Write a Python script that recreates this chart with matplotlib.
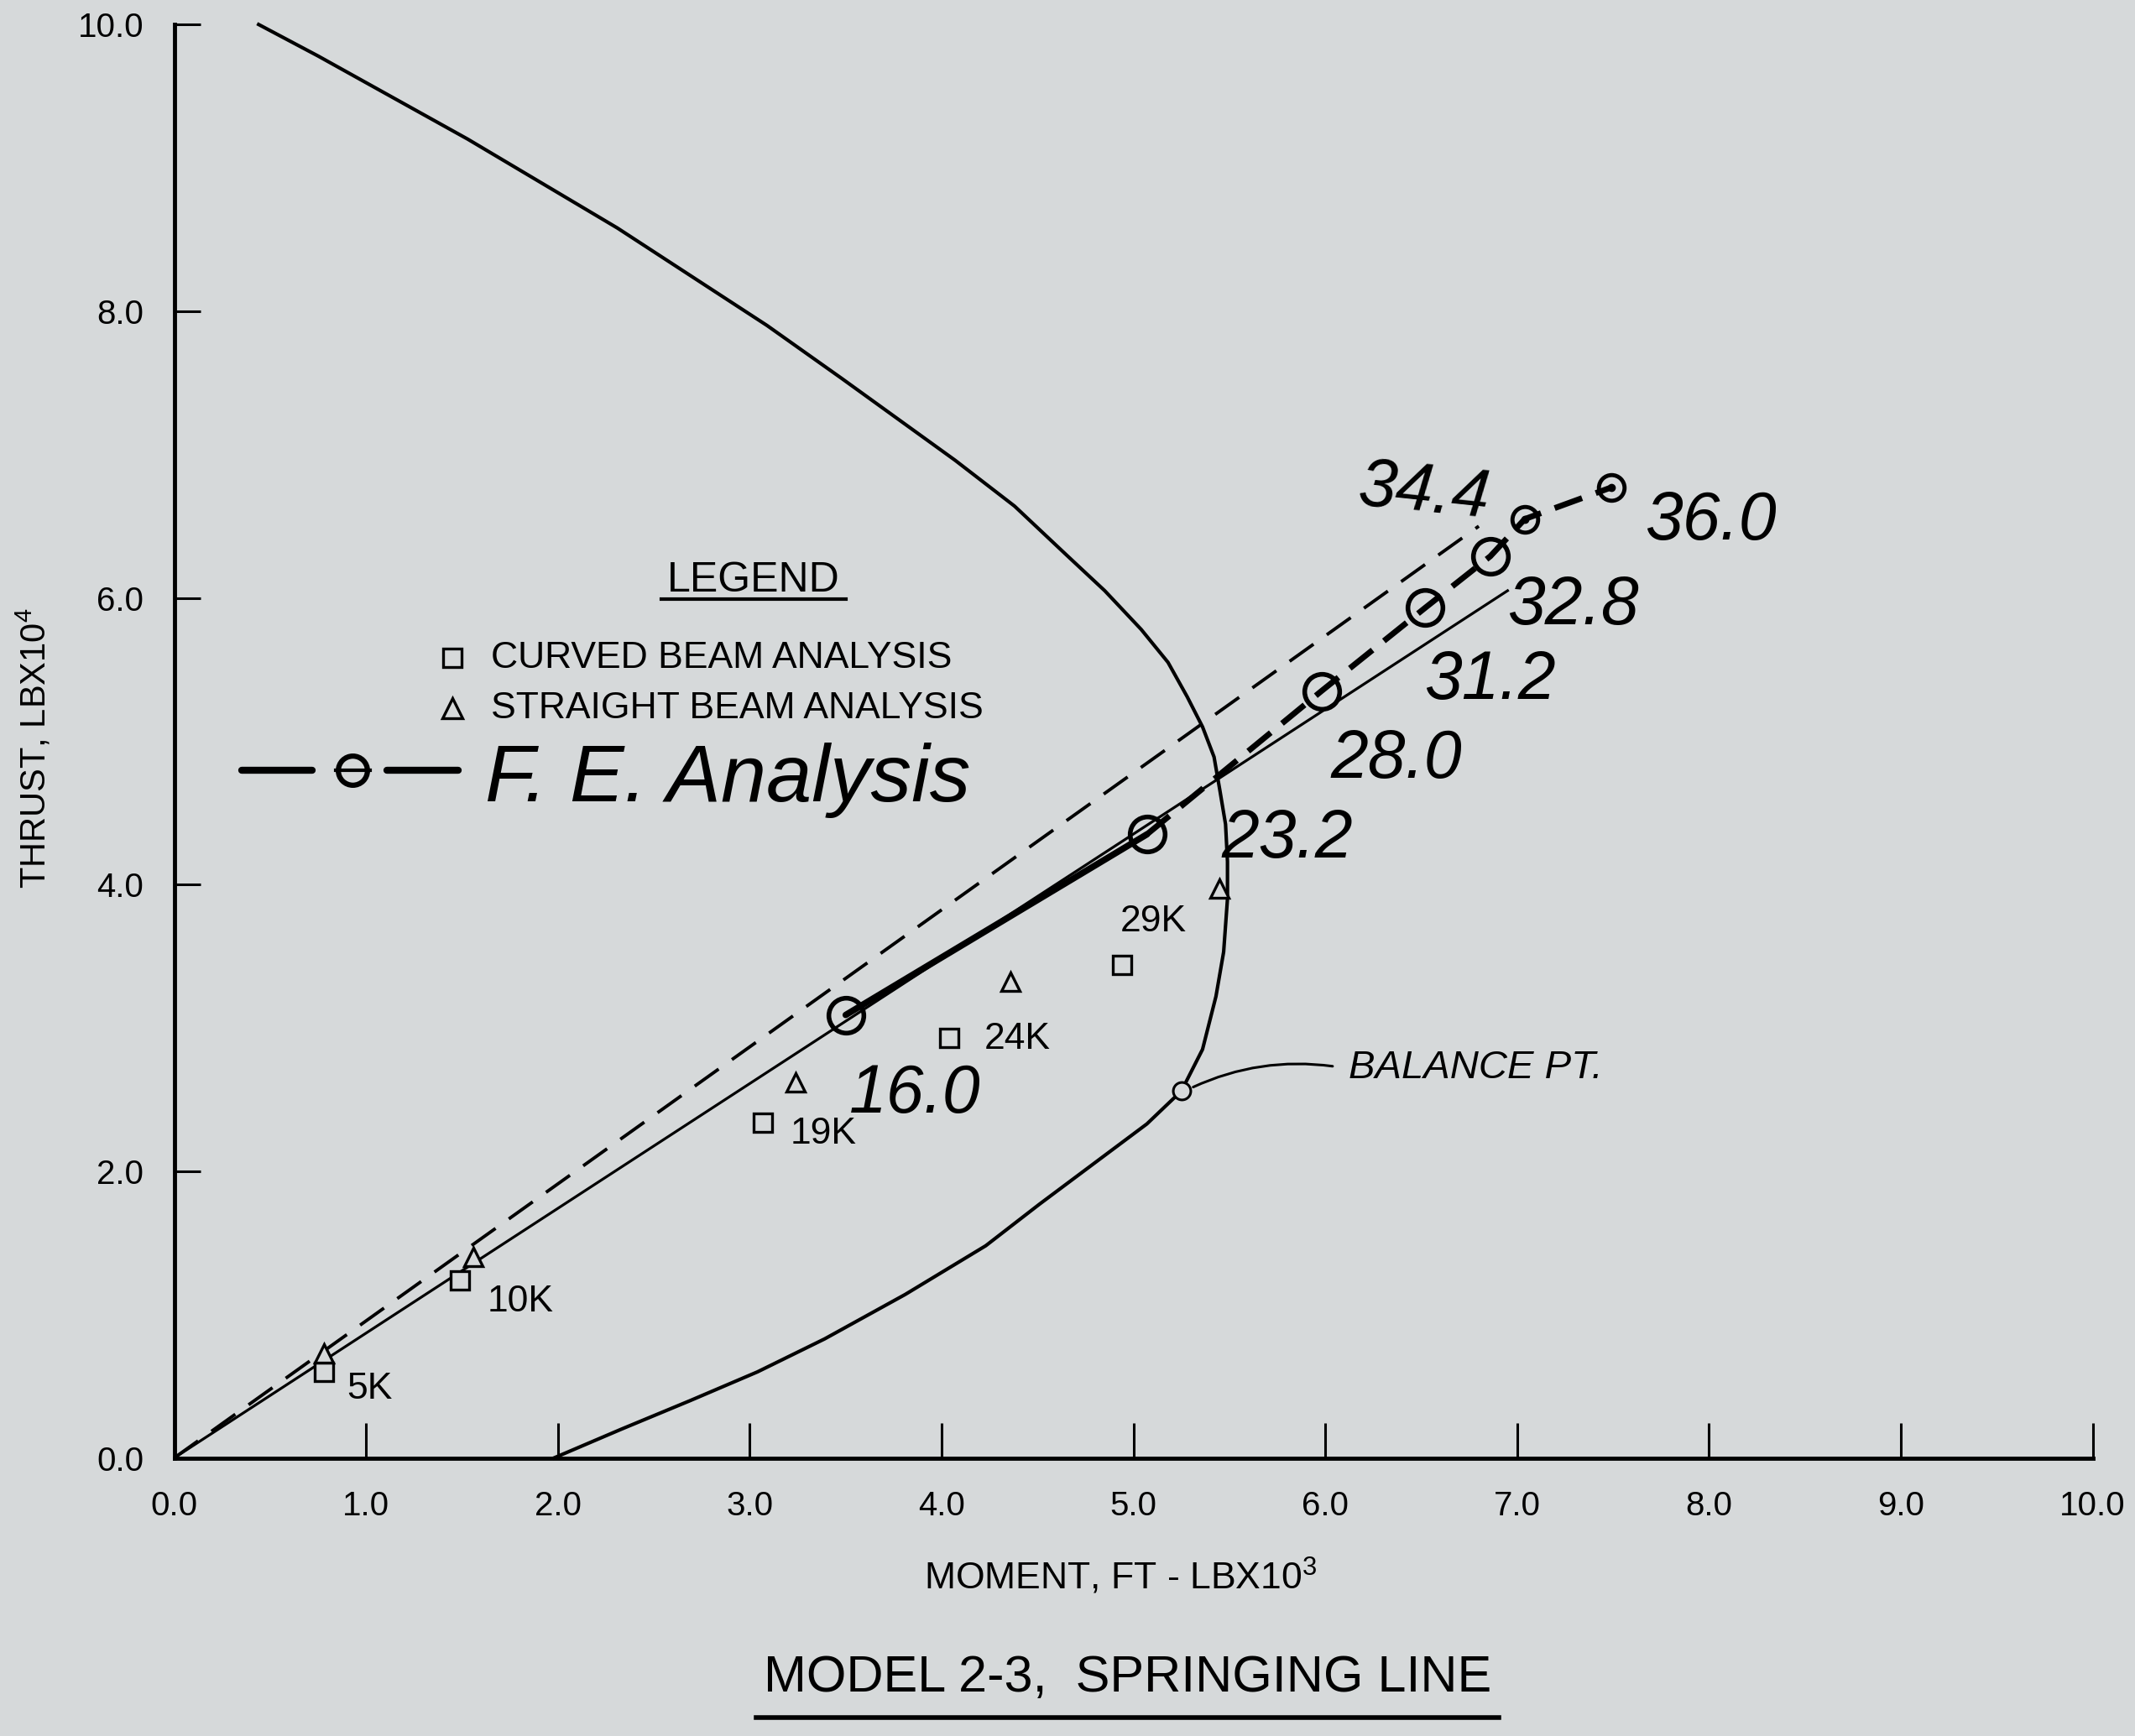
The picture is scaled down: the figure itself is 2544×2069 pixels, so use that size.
import numpy as np
import matplotlib
matplotlib.use("Agg")
import matplotlib.pyplot as plt

plt.rcParams['font.family'] = ['Liberation Sans', 'DejaVu Sans']
plt.rcParams['mathtext.default'] = 'regular'

# interaction diagram (moment x10^3 ft-lb, thrust x10^4 lb)
curve_m = [0.44, 0.75, 1.14, 1.53, 1.92, 2.31, 2.70, 3.09, 3.48, 4.07, 4.38, 4.65, 4.85, 5.04, 5.18,
           5.28, 5.36, 5.42, 5.45, 5.48, 5.49, 5.49, 5.47, 5.43, 5.36, 5.25,
           5.07, 4.79, 4.51, 4.23, 3.81, 3.39, 3.04, 2.69, 2.33, 1.98]
curve_t = [10.0, 9.78, 9.49, 9.20, 8.89, 8.58, 8.24, 7.90, 7.53, 6.96, 6.64, 6.30, 6.05, 5.78, 5.55,
           5.31, 5.10, 4.89, 4.66, 4.42, 4.16, 3.90, 3.53, 3.22, 2.85, 2.56,
           2.33, 2.05, 1.77, 1.48, 1.14, 0.83, 0.60, 0.40, 0.20, 0.0]

# balance point
bal_m = 5.25
bal_t = 2.56

# curved beam analysis (squares) and straight beam analysis (triangles)
loads = ['5K', '10K', '19K', '24K', '29K']
sq_m = [0.78, 1.49, 3.07, 4.04, 4.94]
sq_t = [0.60, 1.24, 2.34, 2.93, 3.44]
tri_m = [0.78, 1.56, 3.24, 4.36, 5.45]
tri_t = [0.73, 1.40, 2.62, 3.32, 3.97]

# load lines
curved_line_m = [0.0, 6.95]
curved_line_t = [0.0, 6.05]
straight_line_m = [0.0, 6.80]
straight_line_t = [0.0, 6.50]

# F.E. analysis (hand drawn)
fe_m = [3.50, 5.07, 5.98, 6.52, 6.86, 7.04, 7.49]
fe_t = [3.09, 4.35, 5.35, 5.93, 6.29, 6.55, 6.77]
fe_lbl = ['16.0', '23.2', '28.0', '31.2', '32.8', '34.4', '36.0']

xticks = np.arange(0, 11, 1)
yticks = np.arange(0, 11, 2)

bg = '#d6d9da'

fig = plt.figure(figsize=(25.44, 20.69), dpi=100, facecolor=bg)
ax = fig.add_axes([0.0816, 0.1602, 0.8986, 0.8257])
ax.patch.set_alpha(0)
ax.set_xlim(0, 10)
ax.set_ylim(0, 10)

for s in ['top', 'right']:
    ax.spines[s].set_visible(False)
for s in ['left', 'bottom']:
    ax.spines[s].set_linewidth(3.5)

ax.set_xticks(xticks)
ax.set_xticklabels([f'{v:.1f}' for v in xticks])
ax.set_yticks(yticks)
ax.set_yticklabels([f'{v:.1f}' for v in yticks])
ax.tick_params(axis='x', direction='in', length=30, width=2.2, pad=28, labelsize=29)
ax.tick_params(axis='y', direction='in', length=22, width=2.2, pad=26, labelsize=29)

# curves
ax.plot(curve_m, curve_t, color='black', lw=3, clip_on=False, solid_joinstyle='round')
ax.plot(curved_line_m, curved_line_t, color='black', lw=2.3)
ax.plot(straight_line_m, straight_line_t, color='black', lw=2.8, dashes=(9, 5))

# F.E. line
ax.plot(fe_m[:2], fe_t[:2], color='black', lw=5.5, solid_capstyle='round')
ax.plot(fe_m[1:], fe_t[1:], color='black', lw=5, dashes=(5, 2.5))
ax.plot(fe_m[:5], fe_t[:5], 'o', ms=30, mfc='none', mec='black', mew=4)
ax.plot(fe_m[5:], fe_t[5:], 'o', ms=22, mfc='none', mec='black', mew=3.5)
ax.plot(fe_m[5:], fe_t[5:], 'o', ms=6, color='black')

# analysis points
ax.plot(sq_m, sq_t, 's', ms=16, mfc=bg, mec='black', mew=2.4)
ax.plot(tri_m, tri_t, '^', ms=16, mfc=bg, mec='black', mew=2.4)
load_pos = [(0.90, 0.48), (1.63, 1.09), (3.21, 2.26), (4.22, 2.92), (4.93, 3.74)]
for (x, y), lbl in zip(load_pos, loads):
    ax.text(x, y, lbl, fontsize=32, ha='left', va='center')

# balance point
ax.plot(bal_m, bal_t, 'o', ms=15, mfc=bg, mec='black', mew=2.2, zorder=5)
ax.annotate('', xy=(bal_m + 0.05, bal_t + 0.02), xytext=(6.05, 2.73),
            arrowprops=dict(arrowstyle='-', lw=2.2, color='black',
                            connectionstyle='arc3,rad=0.15'))
ax.text(6.12, 2.72, 'BALANCE PT.', fontsize=34, style='italic', ha='left', va='center')

# F.E. value labels
lbl_pos = [(3.86, 2.53), (5.80, 4.31), (6.37, 4.87), (6.86, 5.42), (7.29, 5.94), (6.51, 6.73), (8.01, 6.53)]
lbl_rot = [0, 0, 0, 0, 0, -6, 0]
for (x, y), lbl, r in zip(lbl_pos, fe_lbl, lbl_rot):
    ax.text(x, y, lbl, fontsize=58, style='italic', ha='center', va='center', rotation=r)

# legend
ax.text(3.02, 6.12, 'LEGEND', fontsize=36, ha='center', va='center')
ax.plot([2.54, 3.50], [5.99, 5.99], color='black', lw=3)
ax.plot(1.45, 5.58, 's', ms=16, mfc=bg, mec='black', mew=2.4)
ax.plot(1.45, 5.23, '^', ms=17, mfc=bg, mec='black', mew=2.4)
ax.text(1.65, 5.58, 'CURVED BEAM ANALYSIS', fontsize=32, ha='left', va='center')
ax.text(1.65, 5.23, 'STRAIGHT BEAM ANALYSIS', fontsize=32, ha='left', va='center')
ax.plot([0.35, 0.72], [4.80, 4.80], color='black', lw=6, solid_capstyle='round')
ax.plot([1.11, 1.48], [4.80, 4.80], color='black', lw=6, solid_capstyle='round')
ax.plot(0.93, 4.80, 'o', ms=25, mfc='none', mec='black', mew=4.5)
ax.plot([0.84, 1.02], [4.80, 4.80], color='black', lw=3)
ax.text(1.62, 4.58, 'F. E. Analysis', fontsize=70, style='italic', ha='left', va='baseline')

# axis labels and title
fig.text(0.0159, 0.569, 'THRUST, LBX10$^4$', fontsize=30, rotation=90, ha='center', va='center')
fig.text(0.5249, 0.092, 'MOMENT, FT - LBX10$^3$', fontsize=32, ha='center', va='center')
fig.text(0.528, 0.0332, 'MODEL 2-3,  SPRINGING LINE', fontsize=44, ha='center', va='center')
fig.add_artist(plt.Line2D([0.354, 0.702], [0.0104, 0.0104], color='black', lw=4, transform=fig.transFigure))

fig.savefig('out.png', dpi=100, facecolor=bg)
